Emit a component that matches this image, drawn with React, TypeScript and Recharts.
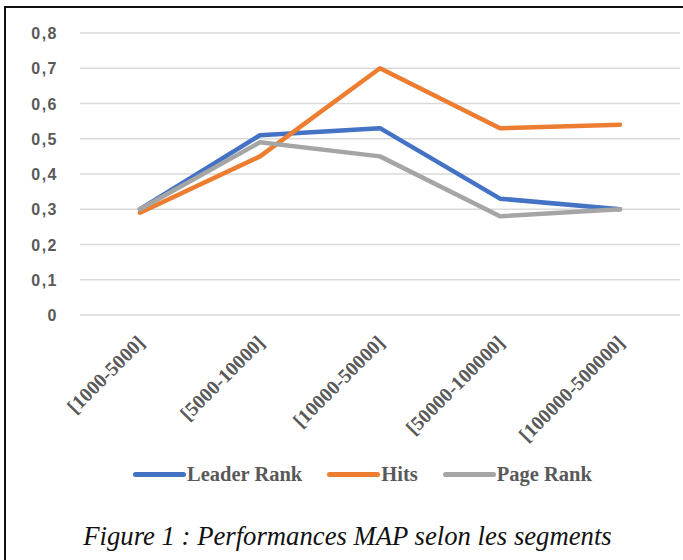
import React from "react";
import { LineChart, Line, XAxis, YAxis, CartesianGrid } from "recharts";

const categories = ["[1000-5000]", "[5000-10000]", "[10000-50000]", "[50000-100000]", "[100000-500000]"];
const leaderRank = [0.3, 0.51, 0.53, 0.33, 0.3];
const hits = [0.29, 0.45, 0.7, 0.53, 0.54];
const pageRank = [0.3, 0.49, 0.45, 0.28, 0.3];
const yTicks = [0, 0.1, 0.2, 0.3, 0.4, 0.5, 0.6, 0.7, 0.8];
const seriesNames = ["Leader Rank", "Hits", "Page Rank"];
const seriesKeys = ["leader", "hits", "page"];
const seriesColors = ["#4472C4", "#ED7D31", "#A5A5A5"];
const caption = "Figure 1 : Performances MAP selon les segments";

const data = categories.map((c, i) => ({
  cat: c,
  leader: leaderRank[i],
  hits: hits[i],
  page: pageRank[i],
}));

const fmt = (v: number) => (v === 0 ? "0" : v.toFixed(1).replace(".", ","));

const YTick = (props: any) => {
  const { y, payload } = props;
  return (
    <text
      x={58}
      y={y + 6}
      textAnchor="end"
      fill="#595959"
      fontFamily="'Liberation Sans', Arial, sans-serif"
      fontWeight="bold"
      fontSize={16}
      letterSpacing={1.5}
    >
      {fmt(payload.value)}
    </text>
  );
};

const XTick = (props: any) => {
  const { x, y, payload } = props;
  const ax = x + 6;
  const ay = y + 21;
  return (
    <text
      x={ax}
      y={ay}
      textAnchor="end"
      transform={`rotate(-45 ${ax} ${ay})`}
      fill="#595959"
      fontFamily="'Liberation Serif', 'Times New Roman', serif"
      fontWeight="bold"
      fontSize={20}
    >
      {payload.value}
    </text>
  );
};

export default function App() {
  return (
    <div style={{ position: "absolute", left: 0, top: 0, width: 683, height: 560, background: "#fff", overflow: "hidden" }}>
      <div
        style={{
          position: "absolute",
          left: 4,
          top: 6,
          width: 700,
          height: 600,
          borderLeft: "2px solid #111",
          borderTop: "2px solid #111",
        }}
      />
      <div style={{ position: "absolute", left: 0, top: 0 }}>
        <LineChart width={683} height={450} data={data} margin={{ top: 33, right: 3, bottom: 0, left: 20 }}>
          <CartesianGrid vertical={false} stroke="#d9d9d9" strokeWidth={1.5} />
          <XAxis
            dataKey="cat"
            axisLine={false}
            tickLine={false}
            height={135}
            interval={0}
            padding={{ left: 60, right: 60 }}
            tick={<XTick />}
          />
          <YAxis
            domain={[0, 0.8]}
            ticks={yTicks}
            axisLine={false}
            tickLine={false}
            width={60}
            tick={<YTick />}
          />
          {seriesKeys.map((k, i) => (
            <Line
              key={k}
              dataKey={k}
              name={seriesNames[i]}
              stroke={seriesColors[i]}
              strokeWidth={4.5}
              dot={false}
              activeDot={false}
              strokeLinecap="round"
              strokeLinejoin="round"
              isAnimationActive={false}
            />
          ))}
        </LineChart>
      </div>
      <div
        style={{
          position: "absolute",
          top: 463,
          left: 133,
          display: "flex",
          alignItems: "center",
          fontFamily: "'Liberation Serif', 'Times New Roman', serif",
          fontWeight: "bold",
          fontSize: 20.5,
          color: "#595959",
        }}
      >
        {seriesNames.map((n, i) => (
          <div key={n} style={{ display: "flex", alignItems: "center", marginRight: i < 2 ? 25 : 0 }}>
            <div style={{ width: 53, height: 5, borderRadius: 3, background: seriesColors[i], marginRight: 1 }} />
            <span>{n}</span>
          </div>
        ))}
      </div>
      <div
        style={{
          position: "absolute",
          top: 521,
          left: 0,
          width: 695,
          textAlign: "center",
          fontFamily: "'Liberation Serif', 'Times New Roman', serif",
          fontStyle: "italic",
          fontSize: 26.7,
          color: "#111",
        }}
      >
        {caption}
      </div>
    </div>
  );
}
